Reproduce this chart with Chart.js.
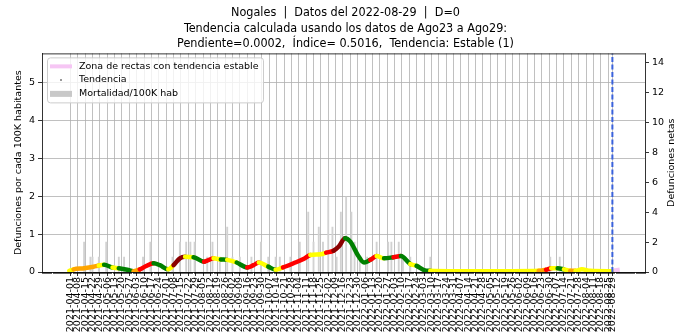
<!DOCTYPE html>
<html>
<head>
<meta charset="utf-8">
<title>Nogales - mortalidad</title>
<script src="https://cdn.jsdelivr.net/npm/chart.js@4.4.0/dist/chart.umd.min.js"></script>
<style>
  html, body { margin: 0; padding: 0; background: #fff; }
  canvas { display: block; }
</style>
</head>
<body>
<canvas id="mortalidad" width="691" height="334"></canvas>
<script>
// los dias se cuentan desde startDate
var startDate = '2021-04-01';
var cutoffDate = '2022-08-29';

var titleLines = [
  'Nogales  |  Datos del 2022-08-29  |  D=0',
  'Tendencia calculada usando los datos de Ago23 a Ago29:',
  'Pendiente=0.0002,  \u00cdndice= 0.5016,  Tendencia: Estable (1)'
];

var tickLabels = [
  '2021-04-01','2021-04-08','2021-04-15','2021-04-22','2021-04-29','2021-05-06','2021-05-13','2021-05-20','2021-05-27',
  '2021-06-03','2021-06-10','2021-06-17','2021-06-24','2021-07-01','2021-07-08','2021-07-15','2021-07-22','2021-07-29',
  '2021-08-05','2021-08-12','2021-08-19','2021-08-26','2021-09-02','2021-09-09','2021-09-16','2021-09-23','2021-09-30',
  '2021-10-07','2021-10-14','2021-10-21','2021-10-28','2021-11-04','2021-11-11','2021-11-18','2021-11-25','2021-12-02',
  '2021-12-09','2021-12-16','2021-12-23','2021-12-30','2022-01-06','2022-01-13','2022-01-20','2022-01-27','2022-02-03',
  '2022-02-10','2022-02-17','2022-02-24','2022-03-03','2022-03-10','2022-03-17','2022-03-24','2022-03-31','2022-04-07',
  '2022-04-14','2022-04-21','2022-04-28','2022-05-05','2022-05-12','2022-05-19','2022-05-26','2022-06-02','2022-06-09',
  '2022-06-16','2022-06-23','2022-06-30','2022-07-07','2022-07-14','2022-07-21','2022-07-28','2022-08-04','2022-08-11',
  '2022-08-18','2022-08-25','2022-08-29'
];

// defunciones netas por dia (eje derecho)
var barDays   = [13, 19, 21, 27, 34, 46, 51, 69, 76, 97, 104, 110, 114, 118, 130, 135, 142, 149, 154, 161, 172, 181, 188, 195,
                 199, 209, 218, 226, 231, 236, 240, 245, 249, 253, 257, 262, 267, 270, 275, 282, 291, 302, 305, 312, 316, 323, 342,
                 456, 465];
var barDeaths = [2, 1, 1, 1, 2, 1, 1, 1, 2, 1, 2, 2, 2, 2, 1, 2, 1, 3, 1, 1, 1, 2, 1, 1,
                 1, 1, 2, 4, 2, 3, 2, 5, 3, 1, 4, 5, 4, 2, 1, 1, 2, 2, 2, 2, 1, 1, 1,
                 1, 1];

// tendencia (promedio movil por 100K hab) y su clasificacion
// Y estable, O alza leve, R alza, D alza fuerte, G baja
var trendDays = [-1, 3, 13, 22, 27, 32, 40, 46, 54, 60, 66, 72, 79, 85, 93, 98, 104, 109, 117, 127, 130, 136, 143, 149,
                 158, 168, 174, 179, 188, 195, 202, 212, 222, 228, 238, 243, 250, 255, 261, 266, 273, 279, 285, 291, 298,
                 307, 314, 323, 329, 336, 342, 360, 380, 400, 420, 445, 452, 457, 463, 469, 475, 480, 486, 494, 515];
var trendValues = [0.03, 0.07, 0.10, 0.14, 0.17, 0.19, 0.12, 0.10, 0.06, 0.02, 0.07, 0.16, 0.23, 0.18, 0.07, 0.18, 0.36,
                   0.40, 0.39, 0.27, 0.30, 0.36, 0.33, 0.32, 0.25, 0.12, 0.18, 0.25, 0.14, 0.06, 0.12, 0.23, 0.35, 0.45,
                   0.47, 0.51, 0.56, 0.67, 0.89, 0.80, 0.45, 0.25, 0.32, 0.42, 0.36, 0.39, 0.42, 0.21, 0.16, 0.05, 0.03,
                   0.02, 0.02, 0.02, 0.02, 0.03, 0.06, 0.10, 0.10, 0.07, 0.03, 0.03, 0.07, 0.03, 0.02];
var trendClasses = ['Y','O','O','O','Y','G','Y','G','G','O','R','R','G','G','Y','D','D','Y','G','R','R','Y','G','Y',
                    'G','R','R','Y','G','Y','R','R','R','Y','Y','R','D','D','G','G','G','G','R','Y','G',
                    'R','G','Y','G','G','Y','Y','Y','Y','Y','O','R','Y','G','Y','O','Y','Y','Y','Y'];

// zona de rectas con tendencia estable
var zoneDays = [516, 522];
var zoneValues = [0.03, 0.05];

var leftMax = 5.76;
var rightMax = 14.6;
var xMin = -27, xMax = 546;

var classColor = { Y: '#ffff00', O: '#ffa500', R: '#ff0000', D: '#8b0000', G: '#008000' };
var FONT = "'DejaVu Sans', sans-serif";
var TITLE_FONT = "'Liberation Sans Narrow', 'DejaVu Sans Condensed', 'DejaVu Sans', sans-serif";

function dayOf(s) {
  return Math.round((Date.parse(s) - Date.parse(startDate)) / 86400000);
}

var tickDays = tickLabels.map(dayOf);
var labelByDay = {};
tickLabels.forEach(function(l, i){ labelByDay[tickDays[i]] = l; });
var cutoffDay = dayOf(cutoffDate);

var barData = barDays.map(function(d, i){ return { x: d, y: barDeaths[i] }; });
var trendData = trendDays.map(function(d, i){ return { x: d, y: trendValues[i] }; });
var zoneData = zoneDays.map(function(d, i){ return { x: d, y: zoneValues[i] }; });

// ticks diarios, marco superior, leyenda y titulo del eje derecho
var extras = {
  id: 'extras',
  afterDraw: function(chart) {
    var ctx = chart.ctx, a = chart.chartArea, xs = chart.scales.x;
    ctx.save();
    ctx.strokeStyle = '#000';
    ctx.lineWidth = 0.6;
    ctx.beginPath();
    for (var d = Math.ceil(xMin); d <= xMax; d++) {
      var px = Math.round(xs.getPixelForValue(d)) + 0.5;
      ctx.moveTo(px, a.bottom);
      ctx.lineTo(px, a.bottom + 2);
    }
    ctx.stroke();

    ctx.lineWidth = 0.8;
    ctx.beginPath();
    ctx.moveTo(a.left, a.top + 0.5);
    ctx.lineTo(a.right, a.top + 0.5);
    ctx.stroke();

    // leyenda
    var bx = a.left + 5, by = a.top + 4, bw = 216, bh = 45;
    ctx.fillStyle = 'rgba(255,255,255,0.8)';
    ctx.strokeStyle = '#cccccc';
    ctx.lineWidth = 1;
    ctx.beginPath();
    ctx.roundRect(bx + 0.5, by + 0.5, bw, bh, 3);
    ctx.fill();
    ctx.stroke();

    var ds = chart.data.datasets;
    var hx0 = bx + 3, hx1 = bx + 25, tx = bx + 32;
    var rows = [by + 9, by + 22.5, by + 36.5];
    ctx.font = '9.5px ' + FONT;
    ctx.textBaseline = 'middle';
    ctx.textAlign = 'left';

    ctx.strokeStyle = ds[1].borderColor;
    ctx.lineWidth = 4;
    ctx.beginPath();
    ctx.moveTo(hx0, rows[0]);
    ctx.lineTo(hx1, rows[0]);
    ctx.stroke();

    ctx.fillStyle = '#777';
    ctx.beginPath();
    ctx.arc((hx0 + hx1) / 2, rows[1], 1, 0, Math.PI * 2);
    ctx.fill();

    ctx.fillStyle = '#c8c8c8';
    ctx.fillRect(hx0, rows[2] - 3, hx1 - hx0, 6);

    ctx.fillStyle = '#000';
    ctx.fillText(ds[1].label, tx, rows[0]);
    ctx.fillText(ds[2].label, tx, rows[1]);
    ctx.fillText(ds[3].label, tx, rows[2]);

    // titulo del eje derecho
    ctx.translate(a.right + 27, (a.top + a.bottom) / 2);
    ctx.rotate(-Math.PI / 2);
    ctx.textAlign = 'center';
    ctx.fillText('Defunciones netas', 0, 0);
    ctx.restore();
  }
};

Chart.defaults.font.family = FONT;
Chart.defaults.color = '#000';

new Chart(document.getElementById('mortalidad'), {
  data: {
    datasets: [
      {
        type: 'line',
        label: 'corte',
        data: [{ x: cutoffDay, y: 0 }, { x: cutoffDay, y: leftMax }],
        borderColor: '#3a62dc',
        borderWidth: 2,
        borderDash: [5, 2.5],
        pointRadius: 0,
        yAxisID: 'y'
      },
      {
        type: 'line',
        label: 'Zona de rectas con tendencia estable',
        data: zoneData,
        borderColor: '#f6c6f4',
        borderWidth: 5,
        pointRadius: 0,
        yAxisID: 'y'
      },
      {
        type: 'line',
        label: 'Tendencia',
        data: trendData,
        borderWidth: 4.5,
        borderCapStyle: 'round',
        borderJoinStyle: 'round',
        cubicInterpolationMode: 'monotone',
        pointRadius: 0,
        segment: {
          borderColor: function(c) { return classColor[trendClasses[c.p0DataIndex]]; }
        },
        yAxisID: 'y'
      },
      {
        type: 'bar',
        label: 'Mortalidad/100K hab',
        data: barData,
        backgroundColor: '#d2d2d2',
        barThickness: 1.2,
        grouped: false,
        yAxisID: 'y2'
      }
    ]
  },
  options: {
    responsive: false,
    animation: false,
    devicePixelRatio: 1,
    layout: { padding: 0 },
    plugins: {
      legend: { display: false },
      tooltip: { enabled: false },
      title: {
        display: true,
        text: titleLines,
        font: { family: TITLE_FONT, size: 12.5, weight: 'normal', lineHeight: 1.25 },
        padding: { top: 5, bottom: 1.5 },
        color: '#000'
      }
    },
    scales: {
      x: {
        type: 'linear',
        offset: false,
        min: xMin,
        max: xMax,
        afterBuildTicks: function(scale) {
          scale.ticks = tickDays.map(function(v){ return { value: v }; });
        },
        afterFit: function(scale) { scale.height = 62; },
        ticks: {
          autoSkip: false,
          minRotation: 90,
          maxRotation: 90,
          padding: 1,
          font: { size: 9.5 },
          callback: function(v) { return labelByDay[v] || ''; }
        },
        grid: { offset: false, color: '#b0b0b0', lineWidth: 0.8, tickColor: '#000', tickLength: 4, tickWidth: 0.8 },
        border: { color: '#000', width: 0.8 }
      },
      y: {
        position: 'left',
        min: 0,
        max: leftMax,
        afterFit: function(scale) { scale.width = 42; },
        ticks: { stepSize: 1, includeBounds: false, padding: 3, font: { size: 9.5 } },
        grid: { color: '#b0b0b0', lineWidth: 0.8, tickColor: '#000', tickLength: 4, tickWidth: 0.8 },
        border: { color: '#000', width: 0.8 },
        title: {
          display: true,
          text: 'Defunciones por cada 100K habitantes',
          font: { size: 9.5 },
          padding: { top: 13, bottom: 0 }
        }
      },
      y2: {
        position: 'right',
        min: 0,
        max: rightMax,
        afterFit: function(scale) { scale.width = 46; },
        ticks: { stepSize: 2, includeBounds: false, padding: 3, font: { size: 9.5 } },
        grid: { drawOnChartArea: false, tickColor: '#000', tickLength: 4, tickWidth: 0.8 },
        border: { color: '#000', width: 0.8 }
      }
    }
  },
  plugins: [extras]
});
</script>
</body>
</html>
